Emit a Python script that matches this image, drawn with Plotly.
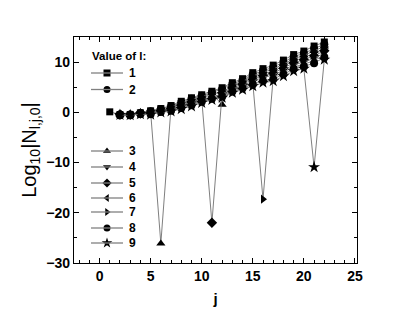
import plotly.graph_objects as go

j_vals = list(range(1, 23))
j_rest = list(range(2, 23))

l1 = [0.1, -0.45, -0.45, -0.1, 0.3, 0.75, 1.35, 2.2, 2.9, 3.5, 4.2, 4.9, 5.9, 6.7, 7.9, 8.7, 9.4, 10.4, 11.5, 12.2, 13.2, 14.0]
l2 = [-0.46, -0.46, -0.13, 0.21, 0.66, 1.21, 2.01, 2.69, 3.3, 3.99, 4.65, 5.65, 6.43, 7.56, 8.35, 9.0, 10.0, 11.09, 11.76, 12.71, 13.56]
l3 = [-0.46, -0.48, -0.16, 0.11, -26.1, 1.06, 1.81, 2.48, 3.1, 3.78, 1.5, 5.4, 6.15, 7.23, 8.0, 8.6, 9.6, 10.68, 11.33, 12.23, 13.13]
l4 = [-0.47, -0.49, -0.19, 0.02, 0.47, 0.92, 1.62, 2.26, 2.9, 3.56, 4.15, 5.15, 5.88, 6.89, 7.65, 8.2, 9.2, 10.26, 10.89, 11.74, 12.69]
l5 = [-0.48, -0.5, -0.23, -0.08, 0.38, 0.78, 1.43, 2.05, 2.7, -22.0, 3.9, 4.9, 5.6, 6.55, 7.3, 7.8, 8.8, 9.85, 10.45, 11.25, 12.25]
l6 = [-0.48, -0.51, -0.26, -0.17, 0.28, 0.63, 1.23, 1.84, 2.5, 3.14, 3.65, 4.65, 5.33, 6.21, 6.95, 7.4, 8.4, 9.44, 10.01, 10.76, 11.81]
l7 = [-0.49, -0.53, -0.29, -0.26, 0.19, 0.49, 1.04, 1.63, 2.3, 2.93, 3.4, 4.4, 5.05, 5.88, -17.3, 7.0, 8.0, 9.03, 9.58, 10.28, 11.38]
l8 = [-0.49, -0.54, -0.32, -0.36, 0.09, 0.34, 0.84, 1.41, 2.1, 2.71, 3.15, 4.15, 4.78, 5.54, 6.25, 6.6, 7.6, 8.61, 9.14, 9.79, 10.94]
l9 = [-0.5, -0.55, -0.35, -0.45, 0.0, 0.2, 0.65, 1.2, 1.9, 2.5, 2.9, 3.9, 4.5, 5.2, 5.9, 6.2, 7.2, 8.2, 8.7, -10.9, 10.5]

series_names = ["1", "2", "3", "4", "5", "6", "7", "8", "9"]
series_x = [j_vals] + [j_rest] * 8
series_y = [l1, l2, l3, l4, l5, l6, l7, l8, l9]
symbols = ["square", "circle", "triangle-up", "triangle-down", "diamond",
           "triangle-left", "triangle-right", "circle", "star"]

x_ticks = [0, 5, 10, 15, 20, 25]
y_ticks = [-30, -20, -10, 0, 10]

legend_title = "Value of l:"

FONT = "Liberation Sans"
fig = go.Figure()
for name, xs, ys, sym in zip(series_names, series_x, series_y, symbols):
    fig.add_trace(go.Scatter(
        x=xs, y=ys, name=name, mode="lines+markers", showlegend=False,
        line=dict(color="#707070", width=0.9),
        marker=dict(symbol=sym, size=8 if sym not in ("star", "square") else (9 if sym == "star" else 7),
                    color="black"),
    ))

# page body has an 8px default margin; compensate so the plot area sits where the reference has it
OFF = 8
W, H = 415 - OFF, 317 - OFF
# plot area, in window pixels
PL, PR, PT, PB = 74, 357, 37, 263

# ---- hand-built legend on an overlay axis measured in window pixels ----
leg_rows = [73, 89.5, 151, 167, 183, 198, 212, 228, 243]
LX0, LX1, LXM, LTX = 91, 123, 107, 127
for name, sym, yy in zip(series_names, symbols, leg_rows):
    fig.add_shape(type="line", xref="x2", yref="y2", x0=LX0, x1=LX1, y0=yy, y1=yy,
                  line=dict(color="#808080", width=1.3))
    fig.add_trace(go.Scatter(x=[LXM], y=[yy], xaxis="x2", yaxis="y2", mode="markers",
                             showlegend=False, hoverinfo="skip",
                             marker=dict(symbol=sym, size=7 if sym != "star" else 8, color="black")))
    fig.add_annotation(x=LTX, y=yy, xref="x2", yref="y2", text=name, showarrow=False,
                       xanchor="left", yanchor="middle",
                       font=dict(family=FONT, size=12, color="black", weight="bold"))
fig.add_annotation(x=90, y=56, xref="x2", yref="y2", text=legend_title, showarrow=False,
                   xanchor="left", yanchor="middle",
                   font=dict(family=FONT, size=11.5, color="black", weight="bold"))

axis_common = dict(
    showline=True, linecolor="black", linewidth=1.2, mirror="ticks",
    ticks="inside", ticklen=5, tickwidth=1, tickcolor="black",
    showgrid=False, zeroline=False,
    tickfont=dict(family=FONT, size=14, color="black", weight="bold"),
)

fig.update_layout(
    width=W, height=H,
    margin=dict(l=PL - OFF, r=415 - PR, t=PT - OFF, b=317 - PB, autoexpand=False),
    paper_bgcolor="white", plot_bgcolor="white",
    showlegend=False,
    xaxis=dict(range=[-2.5, 25.2], tickvals=x_ticks,
               minor=dict(dtick=1, ticks="inside", ticklen=3, tickcolor="black"),
               title=dict(text="j", font=dict(family=FONT, size=15, color="black", weight="bold"), standoff=10),
               **axis_common),
    yaxis=dict(range=[-30, 15], tickvals=y_ticks,
               minor=dict(dtick=5, ticks="inside", ticklen=3, tickcolor="black"),
               title=dict(text="Log<sub>10</sub>|N<sub>l,j,0</sub>|", font=dict(family=FONT, size=20, color="black"), standoff=4),
               **axis_common),
    xaxis2=dict(overlaying="x", range=[PL, PR], visible=False, fixedrange=True),
    yaxis2=dict(overlaying="y", range=[PB, PT], visible=False, fixedrange=True),
)

fig.write_html("out.html")
